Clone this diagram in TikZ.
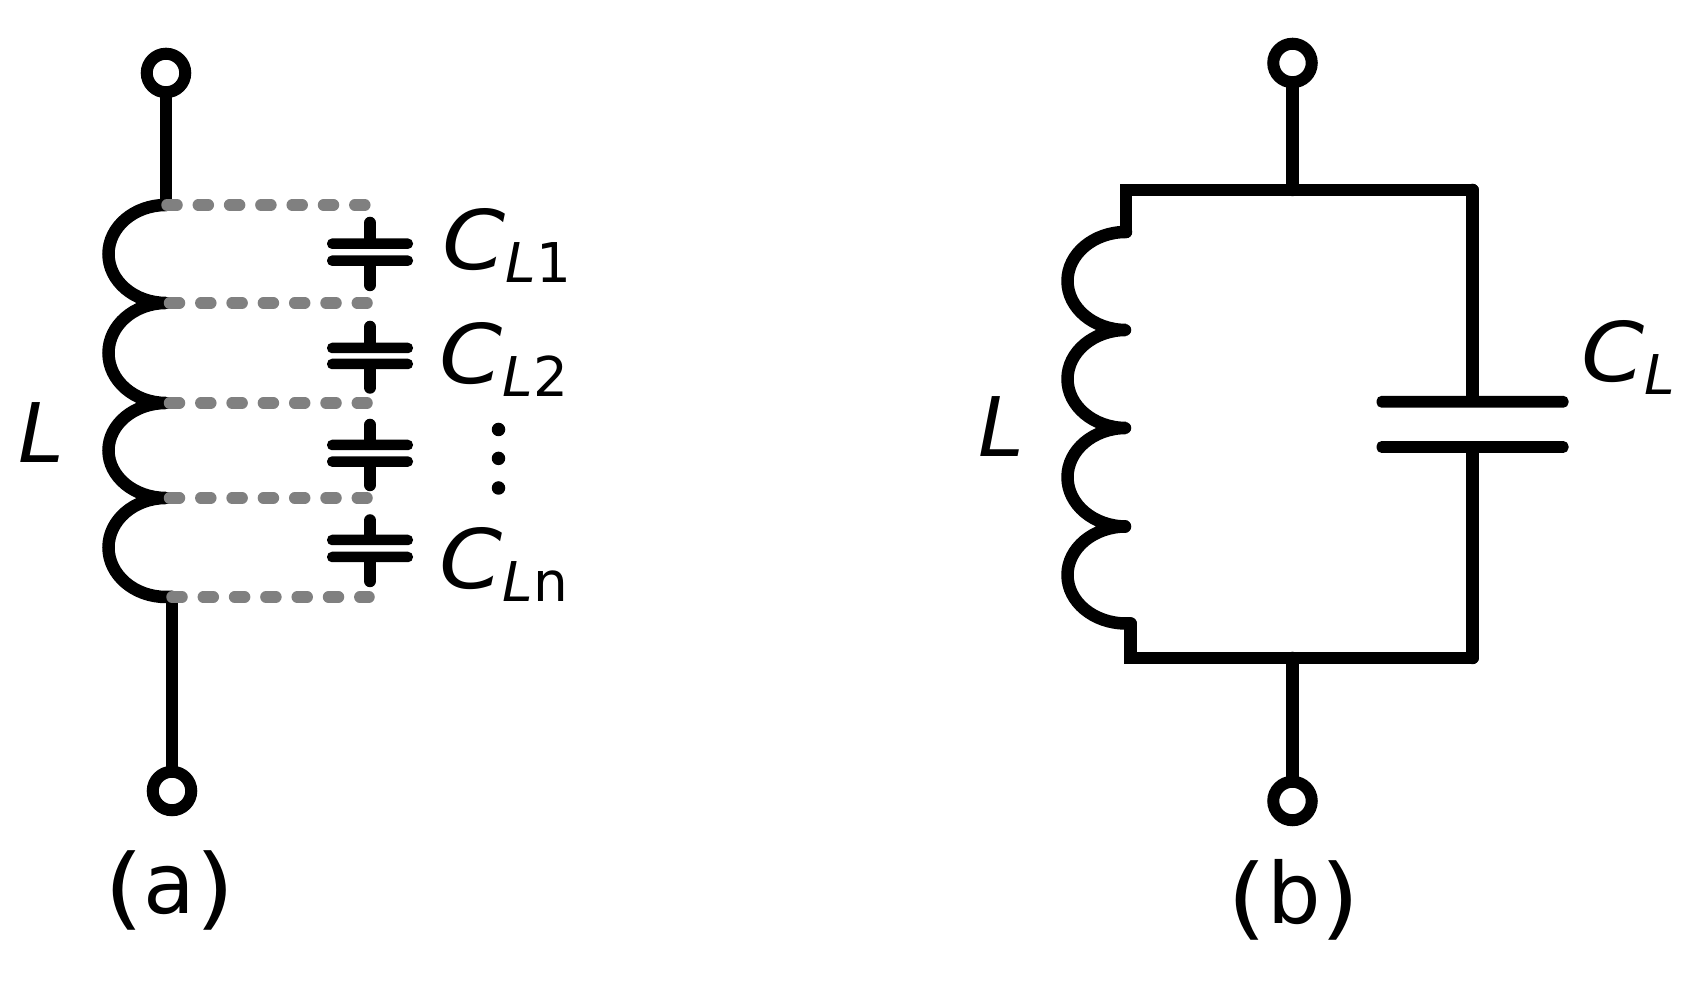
\documentclass[tikz,border=0pt]{standalone}
\usepackage{fontspec}
\setmainfont{DejaVu Sans}
\definecolor{dashcolor}{RGB}{128,128,128}
\newcommand{\capname}[1]{\scalebox{1.1}[1]{\itshape C}\raisebox{-0.13cm}{\fontsize{15.6pt}{15.6pt}\selectfont #1}}
\newcommand{\tallparen}[1]{\raisebox{-0.05cm}{\scalebox{1.2}[1.06]{#1}}}
\tikzset{
    wire/.style={line width=0.125cm, line cap=round},
    tap/.style={line width=0.115cm, line cap=round, color=dashcolor, dash pattern=on 0.10cm off 0.213cm},
    terminal/.style={circle, draw, line width=0.12cm, fill=white, minimum size=0.385cm, inner sep=0pt},
    plate/.style={rectangle, fill=black, rounded corners=0.05cm, minimum width=0.86cm, minimum height=0.105cm, inner sep=0pt},
    platewide/.style={plate, minimum width=1.92cm, minimum height=0.118cm},
    dotmark/.style={circle, fill=black, minimum size=0.135cm, inner sep=0pt},
    symbol/.style={anchor=base west, inner sep=0pt, font=\fontsize{23.4pt}{23.4pt}\selectfont},
    caption/.style={anchor=base, inner sep=0pt, font=\fontsize{24pt}{24pt}\selectfont}
}

\begin{document}
\begin{tikzpicture}
    \useasboundingbox (0,0) rectangle (16.83,9.88);

    % (a) coil with its turn capacitances
    \coordinate (la0) at (1.66,7.83);
    \coordinate (la1) at (1.695,6.85);
    \coordinate (la2) at (1.695,5.85);
    \coordinate (la3) at (1.695,4.90);
    \coordinate (la4) at (1.72,3.91);
    \coordinate (ra0) at (3.65,7.83);
    \coordinate (ra1) at (3.67,6.85);
    \coordinate (ra2) at (3.67,5.85);
    \coordinate (ra3) at (3.67,4.90);
    \coordinate (ra4) at (3.69,3.91);

    \node [terminal] (ta) at (1.66,9.15) {};
    \node [terminal] (ba) at (1.72,1.97) {};
    \draw[wire] (ta) -- (la0);
    \draw[wire] (la4) -- (ba);

    \draw[wire] (la0) arc[start angle=90, end angle=270, x radius=0.575, y radius=0.49]
        arc[start angle=90, end angle=270, x radius=0.575, y radius=0.50]
        arc[start angle=90, end angle=270, x radius=0.575, y radius=0.475]
        arc[start angle=90, end angle=270, x radius=0.575, y radius=0.495] -- (la4);
    % small tails at the junctions
    \draw[wire] (1.60,6.85) -- (la1);
    \draw[wire] (1.60,5.85) -- (la2);
    \draw[wire] (1.60,4.90) -- (la3);

    % capacitor 1
    \node [plate] (c1t) at (3.70,7.443) {};
    \node [plate] (c1b) at (3.70,7.273) {};
    \coordinate (c1p) at (3.70,7.65);
    \coordinate (c1q) at (3.70,7.03);
    \draw[wire] (c1p) -- (c1t);
    \draw[wire] (c1b) -- (c1q);

    % capacitor 2
    \node [plate] (c2t) at (3.70,6.40) {};
    \node [plate] (c2b) at (3.70,6.24) {};
    \coordinate (c2p) at (3.70,6.61);
    \coordinate (c2q) at (3.70,6.005);
    \draw[wire] (c2p) -- (c2t);
    \draw[wire] (c2b) -- (c2q);

    % capacitor 3
    \node [plate] (c3t) at (3.70,5.43) {};
    \node [plate] (c3b) at (3.70,5.264) {};
    \coordinate (c3p) at (3.70,5.63);
    \coordinate (c3q) at (3.70,5.03);
    \draw[wire] (c3p) -- (c3t);
    \draw[wire] (c3b) -- (c3q);

    % capacitor 4
    \node [plate] (c4t) at (3.70,4.48) {};
    \node [plate] (c4b) at (3.70,4.31) {};
    \coordinate (c4p) at (3.70,4.675);
    \coordinate (c4q) at (3.70,4.07);
    \draw[wire] (c4p) -- (c4t);
    \draw[wire] (c4b) -- (c4q);

    \draw[tap] (1.67,7.83) -- (ra0);
    \draw[tap] (la1) -- (ra1);
    \draw[tap] (la2) -- (ra2);
    \draw[tap] (la3) -- (ra3);
    \draw[tap] (la4) -- (ra4);

    \node [symbol] (lab1) at (4.42,7.18) {\capname{\itshape L\upshape 1}};
    \node [symbol] (lab2) at (4.39,6.04) {\capname{\itshape L\upshape 2}};
    \node [symbol] (labn) at (4.39,3.99) {\capname{\itshape L\upshape n}};
    \node [dotmark] (d1) at (4.985,5.585) {};
    \node [dotmark] (d2) at (4.985,5.296) {};
    \node [dotmark] (d3) at (4.985,5.00) {};
    \node [symbol] (laba) at (0.18,5.25) {\itshape L};
    \node [caption] (capa) at (1.695,0.74) {\tallparen{(}a\tallparen{)}};

    % (b) lumped equivalent
    \node [terminal] (tb) at (12.925,9.25) {};
    \node [terminal] (bb) at (12.925,1.87) {};
    \coordinate (jt) at (12.925,7.98);
    \coordinate (jb) at (12.925,3.30);
    \coordinate (tl) at (11.26,7.98);
    \coordinate (tr) at (14.725,7.98);
    \coordinate (bl) at (11.305,3.30);
    \coordinate (br) at (14.725,3.30);
    \coordinate (lb0) at (11.26,7.56);
    \coordinate (lb1) at (11.25,6.58);
    \coordinate (lb2) at (11.25,5.60);
    \coordinate (lb3) at (11.25,4.615);
    \coordinate (lb4) at (11.305,3.645);

    \draw[wire] (tb) -- (jt);
    \draw[wire] (jb) -- (bb);
    \draw[wire] (lb0) -- (tl) -- (tr);
    \draw[wire] (lb4) -- (bl) -- (br);

    \draw[wire] (lb0) arc[start angle=90, end angle=270, x radius=0.585, y radius=0.49]
        arc[start angle=90, end angle=270, x radius=0.585, y radius=0.49]
        arc[start angle=90, end angle=270, x radius=0.585, y radius=0.4925]
        arc[start angle=90, end angle=270, x radius=0.585, y radius=0.485] -- (lb4);
    \draw[wire] (11.15,6.58) -- (lb1);
    \draw[wire] (11.15,5.60) -- (lb2);
    \draw[wire] (11.15,4.615) -- (lb3);

    \node [platewide] (cbt) at (14.725,5.862) {};
    \node [platewide] (cbb) at (14.725,5.41) {};
    \draw[wire] (tr) -- (cbt);
    \draw[wire] (cbb) -- (br);

    \node [symbol] (labc) at (15.81,6.06) {\capname{\itshape L}};
    \node [symbol] (labl) at (9.78,5.31) {\itshape L};
    \node [caption] (capb) at (12.94,0.64) {\tallparen{(}b\tallparen{)}};

\end{tikzpicture}
\end{document}
